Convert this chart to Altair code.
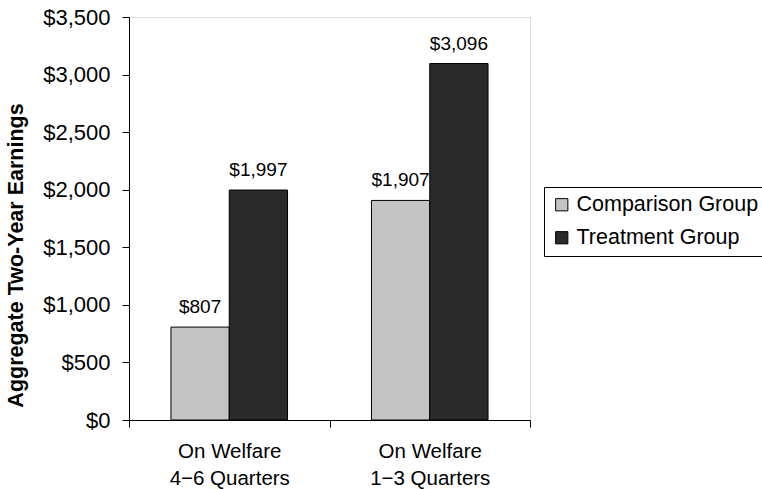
import altair as alt
import pandas as pd

groups = ["On Welfare|4−6 Quarters", "On Welfare|1−3 Quarters"]
series = ["Comparison Group", "Treatment Group"]
comparison = [807, 1907]
treatment = [1997, 3096]
y_ticks = [0, 500, 1000, 1500, 2000, 2500, 3000, 3500]
colors = ["#c4c4c4", "#2a2a2a"]

rows = []
for g, c, t in zip(groups, comparison, treatment):
    rows.append({"group": g, "series": series[0], "value": c})
    rows.append({"group": g, "series": series[1], "value": t})
df = pd.DataFrame(rows)

FONT = "Liberation Sans"

x = alt.X("group:N", sort=groups, title=None,
          scale=alt.Scale(paddingInner=0, paddingOuter=0),
          axis=alt.Axis(labelExpr="split(datum.label, '|')", labelAngle=0,
                        tickBand="extent", labelFontSize=20.5, labelFont=FONT,
                        labelColor="black", domainColor="black", tickColor="black",
                        tickSize=7, labelPadding=14, labelLineHeight=27))
xo = alt.XOffset("series:N", sort=series, scale=alt.Scale(paddingInner=0, paddingOuter=0.72))
y = alt.Y("value:Q", scale=alt.Scale(domain=[0, 3500], nice=False),
          axis=alt.Axis(values=y_ticks, format="$,.0f", grid=False,
                        labelFontSize=22, labelFont=FONT, labelColor="black",
                        domainColor="black", tickColor="black", tickSize=7,
                        labelPadding=12,
                        title="Aggregate Two-Year Earnings", titleFont=FONT,
                        titleFontSize=21.5, titleFontWeight="bold", titleColor="black",
                        titleX=-102, titleY=238, titleAlign="center", titleBaseline="bottom"))

bars = alt.Chart(df).mark_bar(stroke="black", strokeWidth=1).encode(
    x=x, xOffset=xo, y=y,
    color=alt.Color("series:N", sort=series,
                    scale=alt.Scale(domain=series, range=colors),
                    legend=alt.Legend(title=None, orient="none", legendX=415, legendY=170,
                                      labelFont=FONT, labelFontSize=21.5, labelColor="black",
                                      labelLimit=400,
                                      symbolType="square", symbolSize=150,
                                      symbolStrokeColor="black", symbolStrokeWidth=1,
                                      strokeColor="black", padding=7, rowPadding=10,
                                      labelOffset=4, fillColor="white"))
)

labels = alt.Chart(df).mark_text(dy=-14, fontSize=19, font=FONT, color="black",
                                 baseline="alphabetic").encode(
    x=x, xOffset=xo, y=y,
    text=alt.Text("value:Q", format="$,.0f")
)

chart = (bars + labels).properties(
    width=401, height=403,
    padding={"left": 129, "top": 17, "right": 232, "bottom": 69},
    autosize=alt.AutoSizeParams(type="none"),
).configure_view(stroke=None).configure(background="white")

chart.save("out.html", embed_options={"renderer": "svg", "actions": False})
